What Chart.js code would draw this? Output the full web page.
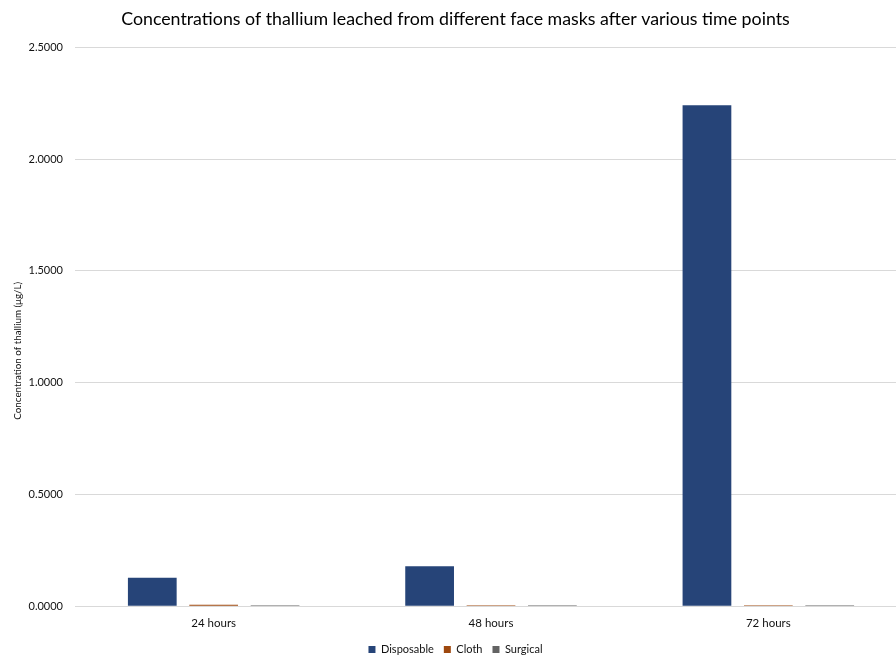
<!DOCTYPE html>
<html>
<head>
<meta charset="utf-8">
<script src="https://cdn.jsdelivr.net/npm/chart.js@4/dist/chart.umd.min.js"></script>
<style>
  html, body { margin: 0; padding: 0; background: #fff; overflow: hidden; }
  #wrap { position: absolute; left: 0; top: 0; width: 910px; height: 660px; }
</style>
</head>
<body>
<div id="wrap"><canvas id="c" width="910" height="660"></canvas></div>
<script>
const timePoints = ['24 hours', '48 hours', '72 hours'];
const disposable = [0.127, 0.179, 2.241];
const cloth = [0.006, 0.004, 0.003];
const surgical = [0.003, 0.002, 0.002];
const yTicks = [0, 0.5, 1.0, 1.5, 2.0, 2.5];
const yAxisTitle = 'Concentration of thallium (μg/L)';

const FONT = 'Lato, "Open Sans", sans-serif';

// Vertical axis title, drawn a little below the middle of the plot area
const yTitlePlugin = {
  id: 'yTitle',
  afterDraw(chart) {
    const { ctx, chartArea } = chart;
    const cy = (chartArea.top + chartArea.bottom) / 2 + 24;
    ctx.save();
    ctx.translate(18, cy);
    ctx.rotate(-Math.PI / 2);
    ctx.font = '9.8px ' + FONT;
    ctx.fillStyle = '#111';
    ctx.textAlign = 'center';
    ctx.textBaseline = 'middle';
    ctx.fillText(yAxisTitle, 0, 0);
    ctx.restore();
  }
};

new Chart(document.getElementById('c'), {
  type: 'bar',
  data: {
    labels: timePoints,
    datasets: [
      { label: 'Disposable', data: disposable, backgroundColor: '#264478' },
      { label: 'Cloth', data: cloth, backgroundColor: '#9E480E' },
      { label: 'Surgical', data: surgical, backgroundColor: '#636363' }
    ]
  },
  plugins: [yTitlePlugin],
  options: {
    responsive: false,
    animation: false,
    devicePixelRatio: 1,
    categoryPercentage: 0.664,
    barPercentage: 0.794,
    minBarLength: 1,
    layout: { padding: { left: 4, right: 3, top: 9, bottom: -5 } },
    plugins: {
      title: {
        display: true,
        text: 'Concentrations of thallium leached from different face masks after various time points',
        color: '#000',
        font: { family: FONT, size: 17.8, weight: 'normal' },
        padding: { top: 0, bottom: 17 }
      },
      legend: {
        position: 'bottom',
        labels: {
          boxWidth: 7, boxHeight: 7,
          color: '#111',
          font: { family: FONT, size: 11 },
          padding: 10
        }
      },
      tooltip: { enabled: false }
    },
    scales: {
      x: {
        grid: { display: false, drawTicks: false },
        border: { color: '#d9d9d9' },
        ticks: { color: '#111', font: { family: FONT, size: 11.5 }, padding: 10 },
        afterFit: s => { s.height = s.height - 6; }
      },
      y: {
        min: 0, max: 2.5,
        afterBuildTicks: s => { s.ticks = yTicks.map(v => ({ value: v })); },
        grid: { color: '#d9d9d9', drawTicks: false },
        border: { display: false },
        ticks: {
          color: '#111', padding: 12,
          font: { family: FONT, size: 11 },
          callback: v => Number(v).toFixed(4)
        },
        afterFit: s => { s.width = 71; }
      }
    }
  }
});
</script>
</body>
</html>
